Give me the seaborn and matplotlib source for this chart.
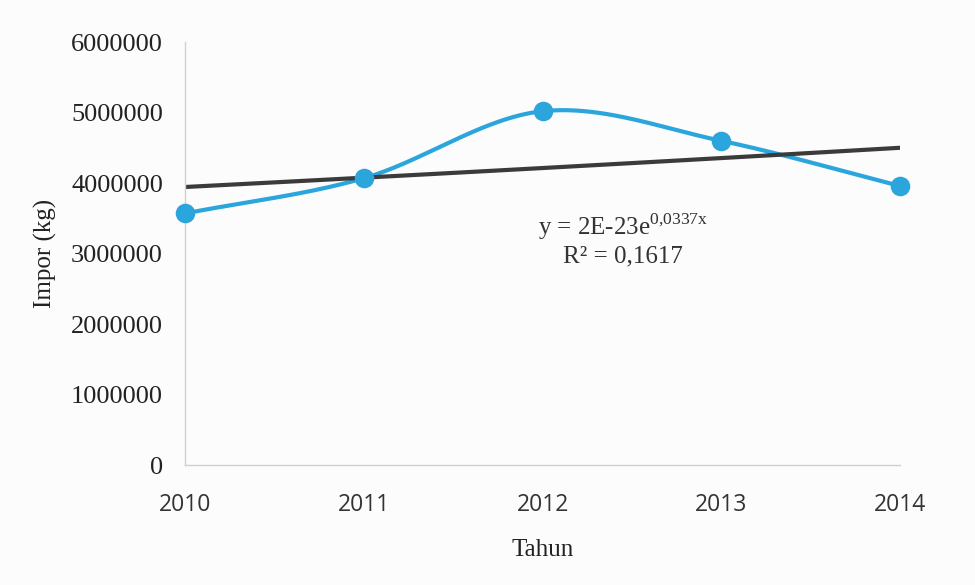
import numpy as np
import pandas as pd
import matplotlib
matplotlib.use("Agg")
import matplotlib.pyplot as plt
import seaborn as sns

years = [2010, 2011, 2012, 2013, 2014]
impor = [3570000, 4070000, 5020000, 4600000, 3960000]
y_ticks = [0, 1000000, 2000000, 3000000, 4000000, 5000000, 6000000]
eq_text = r"y = 2E-23e$^{\mathrm{0{,}0337x}}$"
r2_text = "R² = 0,1617"

sns.set_theme(style="white")
plt.rcParams["font.family"] = ["Liberation Serif", "DejaVu Serif"]
plt.rcParams["mathtext.fontset"] = "custom"
plt.rcParams["mathtext.rm"] = "Liberation Serif"

BLUE = "#2aa6dd"
DARK = "#3b3b3b"

# Smoothed curve (Catmull-Rom, like Excel's smoothed line)
x = np.array(years, dtype=float)
y = np.array(impor, dtype=float)
px = np.concatenate([[2 * x[0] - x[1]], x, [2 * x[-1] - x[-2]]])
py = np.concatenate([[2 * y[0] - y[1]], y, [2 * y[-1] - y[-2]]])
sx, sy = [], []
t = np.linspace(0, 1, 60)
for i in range(1, len(px) - 2):
    p0, p1, p2, p3 = px[i - 1], px[i], px[i + 1], px[i + 2]
    q0, q1, q2, q3 = py[i - 1], py[i], py[i + 1], py[i + 2]
    bx = 0.5 * ((2 * p1) + (-p0 + p2) * t + (2 * p0 - 5 * p1 + 4 * p2 - p3) * t**2 + (-p0 + 3 * p1 - 3 * p2 + p3) * t**3)
    by = 0.5 * ((2 * q1) + (-q0 + q2) * t + (2 * q0 - 5 * q1 + 4 * q2 - q3) * t**2 + (-q0 + 3 * q1 - 3 * q2 + q3) * t**3)
    sx.extend(bx); sy.extend(by)
smooth = pd.DataFrame({"Tahun": sx, "Impor": sy})

# Exponential trendline fitted to data
b, ln_a = np.polyfit(x - 2012, np.log(y), 1)
tx = np.linspace(2010, 2014, 50)
trend = pd.DataFrame({"Tahun": tx, "Impor": np.exp(ln_a + b * (tx - 2012))})

df = pd.DataFrame({"Tahun": years, "Impor": impor})

fig = plt.figure(figsize=(9.75, 5.85), dpi=100)
fig.patch.set_facecolor("#fcfcfc")
ax = fig.add_axes([0.19, 0.205, 0.733, 0.723])
ax.set_facecolor("#fcfcfc")

sns.lineplot(data=smooth, x="Tahun", y="Impor", ax=ax, color=BLUE, lw=3, sort=False)
sns.lineplot(data=trend, x="Tahun", y="Impor", ax=ax, color=DARK, lw=3)
sns.scatterplot(data=df, x="Tahun", y="Impor", ax=ax, color=BLUE, s=170, edgecolor=BLUE,
                zorder=5, clip_on=False)

ax.set_xlim(2010, 2014)
ax.set_ylim(0, 6000000)
ax.set_yticks(y_ticks)
ax.set_yticklabels([str(v) for v in y_ticks], fontsize=19, color="#222222")
ax.set_xticks(years)
ax.set_xticklabels([str(v) for v in years], fontsize=16.5, color="#333333",
                   family=["Open Sans", "DejaVu Sans"])
ax.tick_params(axis="x", pad=20, length=0)
ax.tick_params(axis="y", pad=16, length=0)
ax.set_xlabel("Tahun", fontsize=18, color="#222222", labelpad=16)
ax.set_ylabel("Impor (kg)", fontsize=18, color="#222222", labelpad=10)

for s in ["top", "right"]:
    ax.spines[s].set_visible(False)
for s in ["left", "bottom"]:
    ax.spines[s].set_color("#d0d0d0")
    ax.spines[s].set_linewidth(1)

ax.text(2012.45, 3380000, eq_text, ha="center", va="center", fontsize=18, color="#333333")
ax.text(2012.45, 2960000, r2_text, ha="center", va="center", fontsize=18, color="#333333")

fig.savefig("out.png", dpi=100, facecolor=fig.get_facecolor())
